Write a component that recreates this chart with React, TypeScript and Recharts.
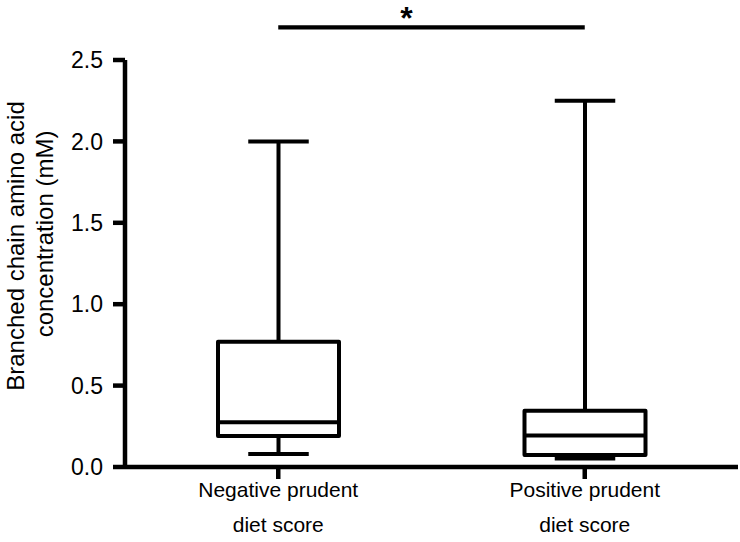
import { ComposedChart, Bar, XAxis, YAxis, ReferenceLine } from "recharts";

const groups = ["Negative prudent\ndiet score", "Positive prudent\ndiet score"];
const whiskerLow = [0.08, 0.052];
const quartile1 = [0.19, 0.074];
const medians = [0.275, 0.193];
const quartile3 = [0.77, 0.345];
const whiskerHigh = [2.0, 2.25];
const yTicks = [0, 0.5, 1.0, 1.5, 2.0, 2.5];
const sigLevel = 2.7;

const data = groups.map((name, i) => ({
  name,
  min: whiskerLow[i],
  q1: quartile1[i],
  median: medians[i],
  q3: quartile3[i],
  max: whiskerHigh[i],
}));

const FONT = "'Liberation Sans', Arial, Helvetica, sans-serif";
const LW = 4;

function BoxShape(props: any) {
  const { x, y, width, height, payload } = props;
  const bottom = y + height;
  // value -> pixel, taken from the bar's own geometry (0..max)
  const py = (v: number) => bottom - (v / payload.max) * height;
  const cx = x + width / 2;
  const capHalf = width / 4;
  const top = py(payload.q3);
  const boxBottom = py(payload.q1);
  return (
    <g stroke="#000" strokeWidth={LW} fill="none" strokeLinejoin="round">
      <line x1={cx} x2={cx} y1={py(payload.max)} y2={top} />
      <line x1={cx - capHalf} x2={cx + capHalf} y1={py(payload.max)} y2={py(payload.max)} />
      <line x1={cx} x2={cx} y1={boxBottom} y2={py(payload.min)} />
      <line x1={cx - capHalf} x2={cx + capHalf} y1={py(payload.min)} y2={py(payload.min)} />
      <rect x={x} y={top} width={width} height={boxBottom - top} fill="#fff" />
      <line x1={x} x2={x + width} y1={py(payload.median)} y2={py(payload.median)} />
    </g>
  );
}

function GroupTick(props: any) {
  const { x, y, payload } = props;
  const lines = String(payload.value).split("\n");
  return (
    <g>
      {lines.map((t, i) => (
        <text
          key={i}
          x={x}
          y={y + 16 + i * 35}
          textAnchor="middle"
          fontFamily={FONT}
          fontSize={21}
          fill="#000"
        >
          {t}
        </text>
      ))}
    </g>
  );
}

function YTitle() {
  return (
    <g fontFamily={FONT} fontSize={24} fill="#000">
      <text transform="translate(15 246) rotate(-90)" textAnchor="middle" dominantBaseline="central">
        Branched chain amino acid
      </text>
      <text transform="translate(44 234) rotate(-90)" textAnchor="middle" dominantBaseline="central">
        concentration (mM)
      </text>
    </g>
  );
}

function Star(props: any) {
  const { viewBox } = props;
  const mid = viewBox.x + (viewBox.width || 0) / 2;
  return (
    <text x={mid - 25} y={viewBox.y + 2} textAnchor="middle" fontFamily={FONT} fontWeight="bold" fontSize={32} fill="#000">
      *
    </text>
  );
}

export default function App() {
  return (
    <div style={{ position: "absolute", left: 0, top: 0, width: 740, height: 542, background: "#fff" }}>
      <ComposedChart width={740} height={542} data={data} margin={{ top: 60, right: 2, bottom: 0, left: 0 }}>
        <XAxis
          dataKey="name"
          height={75}
          interval={0}
          tickSize={12}
          axisLine={{ stroke: "#000", strokeWidth: 4.5 }}
          tickLine={{ stroke: "#000", strokeWidth: 4.5 }}
          tick={<GroupTick />}
        />
        <YAxis
          width={125}
          domain={[0, 2.5]}
          ticks={yTicks}
          tickSize={12}
          tickMargin={10}
          tickFormatter={(v: number) => v.toFixed(1)}
          axisLine={{ stroke: "#000", strokeWidth: 4.5 }}
          tickLine={{ stroke: "#000", strokeWidth: 4.5 }}
          tick={{ fill: "#000", fontSize: 23, fontFamily: FONT }}
          label={() => <YTitle />}
        />
        <ReferenceLine
          segment={[
            { x: groups[0], y: sigLevel },
            { x: groups[1], y: sigLevel },
          ]}
          ifOverflow="visible"
          stroke="#000"
          strokeWidth={4.3}
          label={(p: any) => <Star {...p} />}
        />
        <Bar dataKey="max" barSize={121} shape={<BoxShape />} isAnimationActive={false} />
      </ComposedChart>
    </div>
  );
}
